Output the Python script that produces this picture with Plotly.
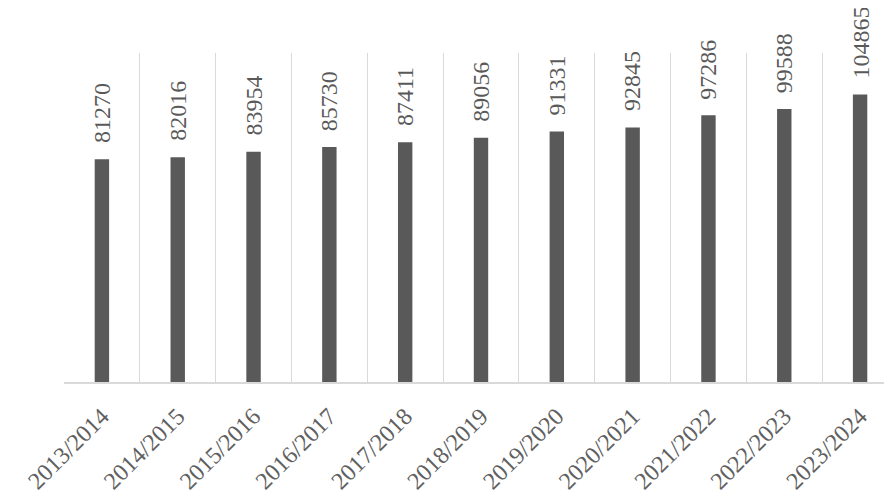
import plotly.graph_objects as go

categories = ["2013/2014", "2014/2015", "2015/2016", "2016/2017", "2017/2018", "2018/2019",
              "2019/2020", "2020/2021", "2021/2022", "2022/2023", "2023/2024"]
values = [81270, 82016, 83954, 85730, 87411, 89056, 91331, 92845, 97286, 99588, 104865]

FONT = "Liberation Serif, serif"
GRAY = "#595959"

fig = go.Figure()
fig.add_trace(go.Bar(x=categories, y=values, marker=dict(color=GRAY, line=dict(width=0)),
                     width=0.19, hoverinfo="x+y"))

for c, v in zip(categories, values):
    fig.add_annotation(x=c, y=v, text=str(v), textangle=-90, showarrow=False,
                       yanchor="bottom", xanchor="center", yshift=14,
                       font=dict(family=FONT, size=24, color=GRAY))

fig.update_layout(
    width=892, height=504,
    margin=dict(l=56, r=2, t=45, b=130, autoexpand=False),
    paper_bgcolor="white", plot_bgcolor="white",
    showlegend=False,
    xaxis=dict(type="category", range=[-0.5, 10.5], tickson="boundaries",
               showgrid=True, gridcolor="#d9d9d9", gridwidth=1.3,
               showline=True, linecolor="#d9d9d9", linewidth=1.5,
               ticks="", tickangle=-45, automargin=False, ticklabelstandoff=9,
               tickfont=dict(family=FONT, size=24, color="#606060")),
    yaxis=dict(range=[0, 120000], showgrid=False, zeroline=False, showticklabels=False,
               showline=False, ticks=""),
)

fig.write_html("out.html")
